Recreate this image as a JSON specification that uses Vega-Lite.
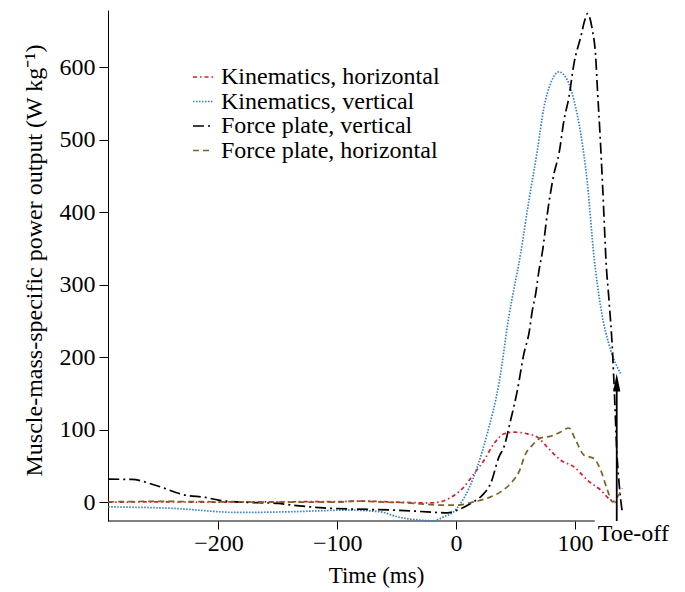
{
  "$schema": "https://vega.github.io/schema/vega-lite/v6.json",
  "width": 518,
  "height": 511,
  "autosize": {"type": "none"},
  "padding": {"left": 108, "top": 10, "right": 59, "bottom": 71},
  "background": "white",
  "config": {
    "view": {"stroke": null},
    "font": "Liberation Serif",
    "axis": {"labelFont": "Liberation Serif", "titleFont": "Liberation Serif", "labelColor": "black", "titleColor": "black", "domainColor": "black", "tickColor": "black", "grid": false, "titleFontWeight": "normal"},
    "legend": {"labelFont": "Liberation Serif"}
  },
  "datasets": {
    "curves": [
      {"t": -292.8, "p": 0, "s": "Kinematics, horizontal"},
      {"t": -250, "p": 0.3, "s": "Kinematics, horizontal"},
      {"t": -200, "p": 0, "s": "Kinematics, horizontal"},
      {"t": -150, "p": 0.5, "s": "Kinematics, horizontal"},
      {"t": -100, "p": 0.8, "s": "Kinematics, horizontal"},
      {"t": -80, "p": 1.5, "s": "Kinematics, horizontal"},
      {"t": -50, "p": 0, "s": "Kinematics, horizontal"},
      {"t": -21.5, "p": -1, "s": "Kinematics, horizontal"},
      {"t": -13.1, "p": 0.4, "s": "Kinematics, horizontal"},
      {"t": -1.9, "p": 9.2, "s": "Kinematics, horizontal"},
      {"t": 6.6, "p": 20.9, "s": "Kinematics, horizontal"},
      {"t": 15, "p": 39.1, "s": "Kinematics, horizontal"},
      {"t": 23.4, "p": 57.5, "s": "Kinematics, horizontal"},
      {"t": 31.8, "p": 80.5, "s": "Kinematics, horizontal"},
      {"t": 40.3, "p": 94.3, "s": "Kinematics, horizontal"},
      {"t": 48.7, "p": 96.6, "s": "Kinematics, horizontal"},
      {"t": 60, "p": 94.3, "s": "Kinematics, horizontal"},
      {"t": 68.4, "p": 89.7, "s": "Kinematics, horizontal"},
      {"t": 76.8, "p": 75.9, "s": "Kinematics, horizontal"},
      {"t": 88, "p": 57.9, "s": "Kinematics, horizontal"},
      {"t": 99.2, "p": 48.7, "s": "Kinematics, horizontal"},
      {"t": 110.5, "p": 30.3, "s": "Kinematics, horizontal"},
      {"t": 121.7, "p": 16.6, "s": "Kinematics, horizontal"},
      {"t": 130.1, "p": 2.8, "s": "Kinematics, horizontal"},
      {"t": 134.4, "p": -0.5, "s": "Kinematics, horizontal"},

      {"t": -292.8, "p": -6.5, "s": "Kinematics, vertical"},
      {"t": -238.8, "p": -8.5, "s": "Kinematics, vertical"},
      {"t": -183.2, "p": -14.2, "s": "Kinematics, vertical"},
      {"t": -143.6, "p": -13.4, "s": "Kinematics, vertical"},
      {"t": -91.4, "p": -11.0, "s": "Kinematics, vertical"},
      {"t": -63.6, "p": -13.4, "s": "Kinematics, vertical"},
      {"t": -49.3, "p": -20.3, "s": "Kinematics, vertical"},
      {"t": -29.9, "p": -24.8, "s": "Kinematics, vertical"},
      {"t": -19.0, "p": -25.8, "s": "Kinematics, vertical"},
      {"t": -10.5, "p": -20.3, "s": "Kinematics, vertical"},
      {"t": -2.1, "p": -13.4, "s": "Kinematics, vertical"},
      {"t": 3.8, "p": -1.8, "s": "Kinematics, vertical"},
      {"t": 10.5, "p": 18, "s": "Kinematics, vertical"},
      {"t": 17.9, "p": 48.7, "s": "Kinematics, vertical"},
      {"t": 26.3, "p": 95.2, "s": "Kinematics, vertical"},
      {"t": 36.1, "p": 164.1, "s": "Kinematics, vertical"},
      {"t": 44.5, "p": 256.8, "s": "Kinematics, vertical"},
      {"t": 54.3, "p": 343, "s": "Kinematics, vertical"},
      {"t": 61.3, "p": 416.6, "s": "Kinematics, vertical"},
      {"t": 68.4, "p": 485.5, "s": "Kinematics, vertical"},
      {"t": 74.0, "p": 545.2, "s": "Kinematics, vertical"},
      {"t": 79.6, "p": 578, "s": "Kinematics, vertical"},
      {"t": 86.6, "p": 593.5, "s": "Kinematics, vertical"},
      {"t": 93.7, "p": 582.1, "s": "Kinematics, vertical"},
      {"t": 99.2, "p": 554.5, "s": "Kinematics, vertical"},
      {"t": 104.9, "p": 508.6, "s": "Kinematics, vertical"},
      {"t": 110.5, "p": 440, "s": "Kinematics, vertical"},
      {"t": 116.1, "p": 338.3, "s": "Kinematics, vertical"},
      {"t": 121.7, "p": 269.4, "s": "Kinematics, vertical"},
      {"t": 130.1, "p": 209.7, "s": "Kinematics, vertical"},
      {"t": 138.5, "p": 177.5, "s": "Kinematics, vertical"},

      {"t": -292.8, "p": 31.7, "s": "Force plate, vertical"},
      {"t": -272.8, "p": 31.3, "s": "Force plate, vertical"},
      {"t": -253.2, "p": 23.4, "s": "Force plate, vertical"},
      {"t": -227.9, "p": 9.7, "s": "Force plate, vertical"},
      {"t": -211.0, "p": 6.5, "s": "Force plate, vertical"},
      {"t": -200.0, "p": 2.8, "s": "Force plate, vertical"},
      {"t": -180.1, "p": 0, "s": "Force plate, vertical"},
      {"t": -149.5, "p": -1.8, "s": "Force plate, vertical"},
      {"t": -142.2, "p": -3.3, "s": "Force plate, vertical"},
      {"t": -111.6, "p": -7.9, "s": "Force plate, vertical"},
      {"t": -83.2, "p": -9.7, "s": "Force plate, vertical"},
      {"t": -52.4, "p": -11.0, "s": "Force plate, vertical"},
      {"t": -24.3, "p": -13.4, "s": "Force plate, vertical"},
      {"t": -7.4, "p": -14.8, "s": "Force plate, vertical"},
      {"t": 1.0, "p": -11.0, "s": "Force plate, vertical"},
      {"t": 12.2, "p": -1.8, "s": "Force plate, vertical"},
      {"t": 22.1, "p": 9.7, "s": "Force plate, vertical"},
      {"t": 29.1, "p": 25.8, "s": "Force plate, vertical"},
      {"t": 36.1, "p": 62.5, "s": "Force plate, vertical"},
      {"t": 40.3, "p": 76.3, "s": "Force plate, vertical"},
      {"t": 45.9, "p": 113.1, "s": "Force plate, vertical"},
      {"t": 51.6, "p": 154.5, "s": "Force plate, vertical"},
      {"t": 57.1, "p": 205.2, "s": "Force plate, vertical"},
      {"t": 61.3, "p": 232.8, "s": "Force plate, vertical"},
      {"t": 64.2, "p": 264.8, "s": "Force plate, vertical"},
      {"t": 67.0, "p": 287.8, "s": "Force plate, vertical"},
      {"t": 69.8, "p": 320.0, "s": "Force plate, vertical"},
      {"t": 72.6, "p": 345, "s": "Force plate, vertical"},
      {"t": 76.8, "p": 398.2, "s": "Force plate, vertical"},
      {"t": 82.4, "p": 453.4, "s": "Force plate, vertical"},
      {"t": 86.6, "p": 481.0, "s": "Force plate, vertical"},
      {"t": 90.8, "p": 527.0, "s": "Force plate, vertical"},
      {"t": 95.0, "p": 559.0, "s": "Force plate, vertical"},
      {"t": 99.2, "p": 605.1, "s": "Force plate, vertical"},
      {"t": 104.9, "p": 641.8, "s": "Force plate, vertical"},
      {"t": 108.3, "p": 664.8, "s": "Force plate, vertical"},
      {"t": 110.5, "p": 674.0, "s": "Force plate, vertical"},
      {"t": 114.7, "p": 651.0, "s": "Force plate, vertical"},
      {"t": 117.5, "p": 614.3, "s": "Force plate, vertical"},
      {"t": 119.0, "p": 568.3, "s": "Force plate, vertical"},
      {"t": 121.1, "p": 508.6, "s": "Force plate, vertical"},
      {"t": 123.2, "p": 440.0, "s": "Force plate, vertical"},
      {"t": 125.1, "p": 371.0, "s": "Force plate, vertical"},
      {"t": 126.0, "p": 338.3, "s": "Force plate, vertical"},
      {"t": 128.7, "p": 278.6, "s": "Force plate, vertical"},
      {"t": 131.6, "p": 209.7, "s": "Force plate, vertical"},
      {"t": 133.5, "p": 140.7, "s": "Force plate, vertical"},
      {"t": 135.2, "p": 71.7, "s": "Force plate, vertical"},
      {"t": 137.2, "p": 25.8, "s": "Force plate, vertical"},
      {"t": 140.0, "p": -15.5, "s": "Force plate, vertical"},

      {"t": -292.8, "p": 0.5, "s": "Force plate, horizontal"},
      {"t": -250, "p": 1, "s": "Force plate, horizontal"},
      {"t": -200, "p": 0.5, "s": "Force plate, horizontal"},
      {"t": -150, "p": 0, "s": "Force plate, horizontal"},
      {"t": -100, "p": 0, "s": "Force plate, horizontal"},
      {"t": -85, "p": 1.5, "s": "Force plate, horizontal"},
      {"t": -60, "p": 0, "s": "Force plate, horizontal"},
      {"t": -46.8, "p": -0.5, "s": "Force plate, horizontal"},
      {"t": -29.9, "p": -2.3, "s": "Force plate, horizontal"},
      {"t": -13.1, "p": -4.1, "s": "Force plate, horizontal"},
      {"t": 1.0, "p": -4.1, "s": "Force plate, horizontal"},
      {"t": 15.0, "p": 0.4, "s": "Force plate, horizontal"},
      {"t": 29.1, "p": 7.3, "s": "Force plate, horizontal"},
      {"t": 37.5, "p": 14.2, "s": "Force plate, horizontal"},
      {"t": 45.9, "p": 25.8, "s": "Force plate, horizontal"},
      {"t": 52.9, "p": 41.8, "s": "Force plate, horizontal"},
      {"t": 58.6, "p": 67.1, "s": "Force plate, horizontal"},
      {"t": 64.2, "p": 78.6, "s": "Force plate, horizontal"},
      {"t": 71.2, "p": 88.7, "s": "Force plate, horizontal"},
      {"t": 79.6, "p": 91.0, "s": "Force plate, horizontal"},
      {"t": 88.0, "p": 96.8, "s": "Force plate, horizontal"},
      {"t": 95.0, "p": 102.3, "s": "Force plate, horizontal"},
      {"t": 100.6, "p": 85.5, "s": "Force plate, horizontal"},
      {"t": 107.7, "p": 64.8, "s": "Force plate, horizontal"},
      {"t": 116.1, "p": 60.2, "s": "Force plate, horizontal"},
      {"t": 121.7, "p": 44.1, "s": "Force plate, horizontal"},
      {"t": 127.4, "p": 16.6, "s": "Force plate, horizontal"},
      {"t": 131.6, "p": 0.4, "s": "Force plate, horizontal"},
      {"t": 135.8, "p": 7.3, "s": "Force plate, horizontal"},
      {"t": 140.0, "p": 18.9, "s": "Force plate, horizontal"}
    ],
    "toeoff": [{"t": 135.2, "bottom": -26, "top": 165, "label": "Toe-off"}],
    "xaxisline": [{"from": -293, "to": 116.7, "y": -26}]
  },
  "layer": [
    {
      "data": {"name": "xaxisline"},
      "mark": {"type": "rule", "color": "black", "strokeWidth": 1},
      "encoding": {
        "x": {"field": "from", "type": "quantitative", "scale": {"domain": [-293, 143], "nice": false, "zero": false}},
        "x2": {"field": "to"},
        "y": {"field": "y", "type": "quantitative", "scale": {"domain": [-26, 679], "nice": false, "zero": false}}
      }
    },
    {
      "data": {"name": "curves"},
      "mark": {"type": "line", "interpolate": "monotone", "strokeWidth": 1.7},
      "encoding": {
        "x": {"field": "t", "type": "quantitative",
          "scale": {"domain": [-293, 143], "nice": false, "zero": false},
          "axis": {"title": "Time (ms)", "values": [-200, -100, 0, 100], "domain": false, "tickSize": 8, "labelFontSize": 24, "titleFontSize": 23, "labelPadding": 2, "titlePadding": 9, "titleX": 268, "format": "d", "labelExpr": "replace(datum.label, '-', '\u2212')"}
        },
        "y": {"field": "p", "type": "quantitative",
          "scale": {"domain": [-26, 679], "nice": false, "zero": false},
          "axis": {"title": "Muscle-mass-specific power output (W kg\u207b\u00b9)", "values": [0, 100, 200, 300, 400, 500, 600], "tickSize": 9, "labelFontSize": 24, "titleFontSize": 24, "labelPadding": 4, "titlePadding": 13, "titleY": 250}
        },
        "color": {"field": "s", "type": "nominal",
          "scale": {"domain": ["Kinematics, horizontal", "Kinematics, vertical", "Force plate, vertical", "Force plate, horizontal"], "range": ["#e3152f", "#2f7fd0", "#000000", "#7a6327"]},
          "legend": {"title": null, "orient": "none", "legendX": 83, "legendY": 55, "symbolType": "stroke", "symbolSize": 400, "symbolStrokeWidth": 1.6, "labelFontSize": 24, "labelLimit": 500, "labelColor": "black", "labelOffset": 6, "rowPadding": 0.5}
        },
        "strokeDash": {"field": "s", "type": "nominal",
          "scale": {"domain": ["Kinematics, horizontal", "Kinematics, vertical", "Force plate, vertical", "Force plate, horizontal"], "range": [[4, 3, 1.5, 3], [1.5, 1.5], [11, 4, 2, 4], [6, 4]]},
          "legend": null
        },
        "order": {"field": "t", "type": "quantitative"}
      }
    },
    {
      "data": {"name": "toeoff"},
      "mark": {"type": "rule", "color": "black", "strokeWidth": 1.8},
      "encoding": {
        "x": {"field": "t", "type": "quantitative"},
        "y": {"field": "bottom", "type": "quantitative"},
        "y2": {"field": "top"}
      }
    },
    {
      "data": {"name": "toeoff"},
      "mark": {"type": "point", "shape": "M0,-1L-0.4,1L0.4,1Z", "filled": true, "color": "black", "opacity": 1, "size": 324},
      "encoding": {
        "x": {"field": "t", "type": "quantitative"},
        "y": {"field": "top", "type": "quantitative"}
      }
    },
    {
      "data": {"name": "toeoff"},
      "mark": {"type": "text", "font": "Liberation Serif", "fontSize": 24, "align": "left", "baseline": "top", "dx": -19, "dy": 1, "color": "black"},
      "encoding": {
        "x": {"field": "t", "type": "quantitative"},
        "y": {"field": "bottom", "type": "quantitative"},
        "text": {"field": "label"}
      }
    }
  ]
}
